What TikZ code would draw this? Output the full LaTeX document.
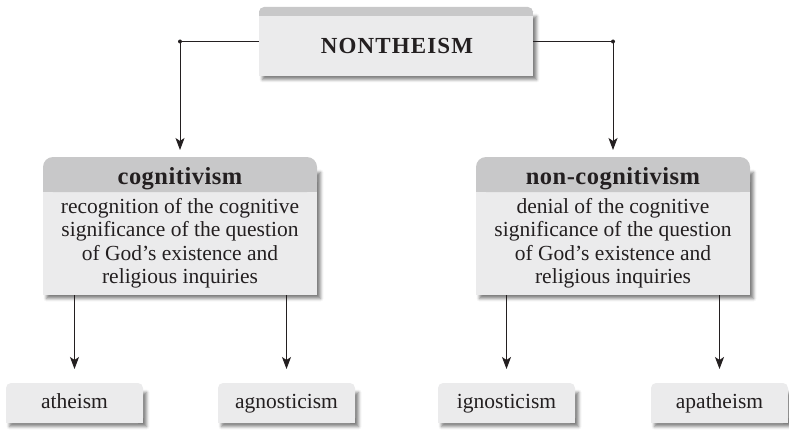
\documentclass[tikz,border=0pt]{standalone}
\usepackage{fontspec}
\setmainfont{Liberation Serif}
\usetikzlibrary{arrows.meta,calc,shadows.blur,backgrounds}
\definecolor{bodyc}{RGB}{235,235,236}
\definecolor{headc}{RGB}{200,200,201}
\definecolor{ink}{RGB}{35,31,32}
\newcommand\rtop[4]{%
  \fill[#1,rounded corners=#2] (#3) rectangle (#4);
  \fill[#1] (#3) rectangle ($(#4)+(0,-#2)$);}
\begin{document}
\begin{tikzpicture}[x=1pt,y=1pt,
  bigarea/.style={inner sep=0pt, outer sep=0pt, minimum width=274pt, minimum height=138pt},
  toparea/.style={inner sep=0pt, outer sep=0pt, minimum width=274pt, minimum height=69pt},
  smallbox/.style={inner sep=0pt, outer sep=0pt, minimum width=137pt, minimum height=40pt,
     text height=15pt, text depth=4pt, text=ink, font=\fontsize{21.5}{23.5}\selectfont},
  headtext/.style={inner sep=0pt, anchor=base, text=ink, font=\bfseries\fontsize{24.5}{28}\selectfont\addfontfeature{LetterSpace=2}},
  bodytext/.style={inner sep=0pt, align=center, text=ink, font=\fontsize{21.5}{23.5}\selectfont},
  shad/.style={blur shadow={shadow xshift=3.5pt, shadow yshift=-3.5pt, shadow blur radius=3pt, shadow opacity=50}},
  arr/.style={draw=ink, line width=0.9pt, -{Stealth[length=12pt,width=9pt,inset=3pt]}},
  dot/.style={fill=ink}
]
\useasboundingbox (0,0) rectangle (789,432);

% nodes
\node[toparea] (top) at (396,390.5) {};
\node[inner sep=0pt, anchor=base, text=ink, font=\bfseries\fontsize{23}{28}\selectfont\addfontfeature{LetterSpace=5}] (toptext) at (397,378) {NONTHEISM};

\node[bigarea] (cog) at (180,206) {};
\node[headtext] (cogh) at (180,248) {cognitivism};
\node[bodytext] (cogb) at (180,189) {recognition of the cognitive\\significance of the question\\of God’s existence and\\religious inquiries};

\node[bigarea] (ncog) at (613,206) {};
\node[headtext] (ncogh) at (613,248) {non-cognitivism};
\node[bodytext] (ncogb) at (613,189) {denial of the cognitive\\significance of the question\\of God’s existence and\\religious inquiries};

\node[smallbox] (ath) at (74.5,29) {atheism};
\node[smallbox] (agn) at (286.5,29) {agnosticism};
\node[smallbox] (ign) at (506.5,29) {ignosticism};
\node[smallbox] (apa) at (719.5,29) {apatheism};

% shapes
\begin{scope}[on background layer]
  % top box
  \fill[bodyc, shad] (top.south west) rectangle ($(top.north east)+(0,-6)$);
  \rtop{headc}{5pt}{$(top.north west)+(0,-9)$}{top.north east}
  % big boxes
  \foreach \b in {cog,ncog}{
    \fill[bodyc, shad] (\b.south west) rectangle ($(\b.north east)+(0,-12)$);
    \rtop{headc}{10pt}{$(\b.north west)+(0,-35)$}{\b.north east}
  }
  % small boxes
  \foreach \b in {ath,agn,ign,apa}{
    \fill[bodyc, shad] (\b.south west) rectangle ($(\b.north east)+(0,-6)$);
    \rtop{bodyc}{5pt}{\b.south west}{\b.north east}
  }
\end{scope}

% connectors
\draw[arr] (top.west) -| ($(cog.north)+(0,7)$);
\draw[arr] (top.east) -| ($(ncog.north)+(0,7)$);
\fill[dot] (top.west -| cog.north) circle (2pt);
\fill[dot] (top.east -| ncog.north) circle (2pt);

\draw[arr] (cog.south -| ath.north) -- ($(ath.north)+(0,14)$);
\draw[arr] (cog.south -| agn.north) -- ($(agn.north)+(0,14)$);
\draw[arr] (ncog.south -| ign.north) -- ($(ign.north)+(0,14)$);
\draw[arr] (ncog.south -| apa.north) -- ($(apa.north)+(0,14)$);
\end{tikzpicture}
\end{document}
